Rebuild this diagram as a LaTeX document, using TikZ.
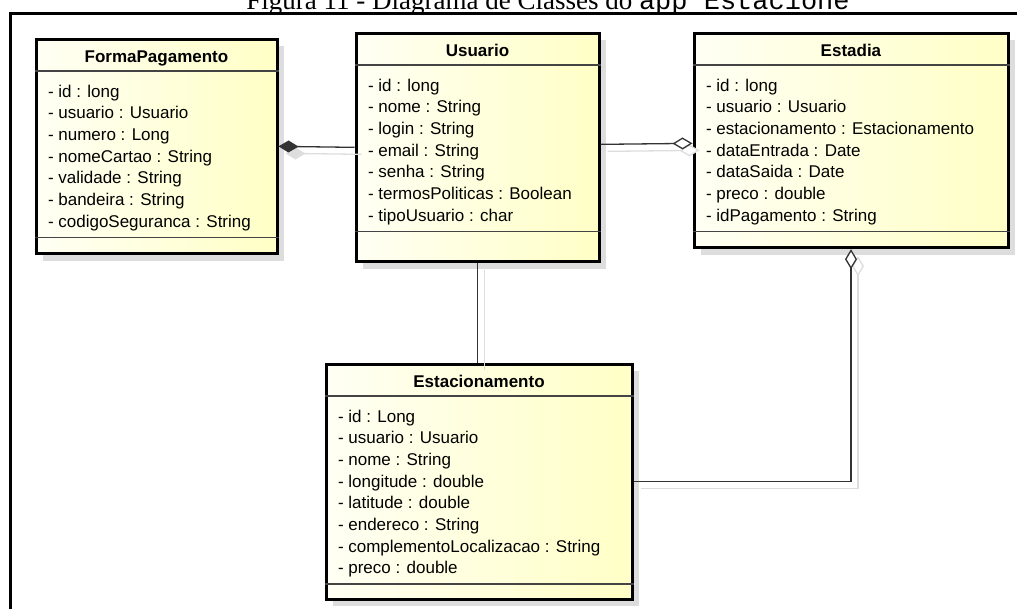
\documentclass[tikz,border=0pt]{standalone}
\usepackage{fontspec}
\setmainfont{Liberation Sans}
\newfontfamily\capserif{Liberation Serif}
\newfontfamily\capmono{Liberation Mono}
\usetikzlibrary{shapes.multipart,arrows.meta,shadows}

\definecolor{clslight}{HTML}{FFFFF4}
\definecolor{clsdark}{HTML}{FFFFC6}
\definecolor{shadowgray}{HTML}{DDDDDD}
\definecolor{linkgray}{HTML}{333333}
\definecolor{splitgray}{HTML}{444444}

% parts of a class box
\newcommand{\clshead}[1]{\rule[-7pt]{0pt}{29pt}\textbf{#1}}
\newcommand{\clsattr}[1]{\rule{0pt}{24.5pt}#1\rule[-8.5pt]{0pt}{8.5pt}}
\newcommand{\clsfoot}[1]{\rule{0pt}{#1}}

\tikzset{
  umlclass/.style={rectangle split, rectangle split parts=3,
    rectangle split part align={center,left,left},
    rectangle split draw splits=false,
    draw=black, line width=3pt, anchor=north west,
    left color=clslight, right color=clsdark,
    inner xsep=12pt, inner ysep=0pt, align=left,
    font=\fontsize{17}{21.7}\selectfont,
    drop shadow={shadow xshift=7pt, shadow yshift=-7pt,
      fill=shadowgray, opacity=1}},
  splitline/.style={draw=splitgray, line width=1.3pt},
  link/.style={draw=linkgray, line width=1.3pt,
    preaction={draw=shadowgray, line width=1.3pt,
      transform canvas={shift={(7pt,-7pt)}}}},
  comp/.style={{Diamond[length=20pt, width=12pt]}-},
  aggr/.style={{Diamond[length=20pt, width=12pt, fill=white]}-}
}

\begin{document}
\begin{tikzpicture}[x=1pt, y=1pt]
  \useasboundingbox (0,0) rectangle (1017,-608);

  % caption, cut by the page edge
  \node[font=\capserif\fontsize{27}{32}\selectfont, anchor=base] (caption)
    at (548,-9) {Figura 11 - Diagrama de Classes do {\capmono app Estacione}};
  \draw[line width=3pt] (10.5,-700) |- (1100,-13);

  % classes
  \node[umlclass, minimum width=241pt] (fp) at (34.5,-37.5) {\clshead{FormaPagamento}
    \nodepart{two}\clsattr{- id : long\\- usuario : Usuario\\- numero : Long\\
      - nomeCartao : String\\- validade : String\\- bandeira : String\\
      - codigoSeguranca : String}
    \nodepart{three}\clsfoot{13.5pt}};

  \node[umlclass, minimum width=243pt] (us) at (354.5,-31.5) {\clshead{Usuario}
    \nodepart{two}\clsattr{- id : long\\- nome : String\\- login : String\\
      - email : String\\- senha : String\\- termosPoliticas : Boolean\\
      - tipoUsuario : char}
    \nodepart{three}\clsfoot{27.5pt}};

  \node[umlclass, minimum width=314pt] (es) at (692.5,-31.5) {\clshead{Estadia}
    \nodepart{two}\clsattr{- id : long\\- usuario : Usuario\\
      - estacionamento : Estacionamento\\- dataEntrada : Date\\
      - dataSaida : Date\\- preco : double\\- idPagamento : String}
    \nodepart{three}\clsfoot{13.5pt}};

  \node[umlclass, minimum width=306pt] (est) at (324.5,-362.5) {\clshead{Estacionamento}
    \nodepart{two}\clsattr{- id : Long\\- usuario : Usuario\\- nome : String\\
      - longitude : double\\- latitude : double\\- endereco : String\\
      - complementoLocalizacao : String\\- preco : double}
    \nodepart{three}\clsfoot{12.5pt}};

  \foreach \c in {fp,us,es,est}{
    \draw[splitline] (\c.text split west) -- (\c.text split east);
    \draw[splitline] (\c.two split west) -- (\c.two split east);
  }

  % associations
  \draw[link, comp] (fp.east) -- (us.west);
  \draw[link, aggr] ([yshift=-3pt]es.west) -- ([yshift=3pt]us.east);
  \draw[link] (us.south) -- (us.south |- est.north);
  \draw[link, aggr] (es.south) |- (est.east);
\end{tikzpicture}
\end{document}
